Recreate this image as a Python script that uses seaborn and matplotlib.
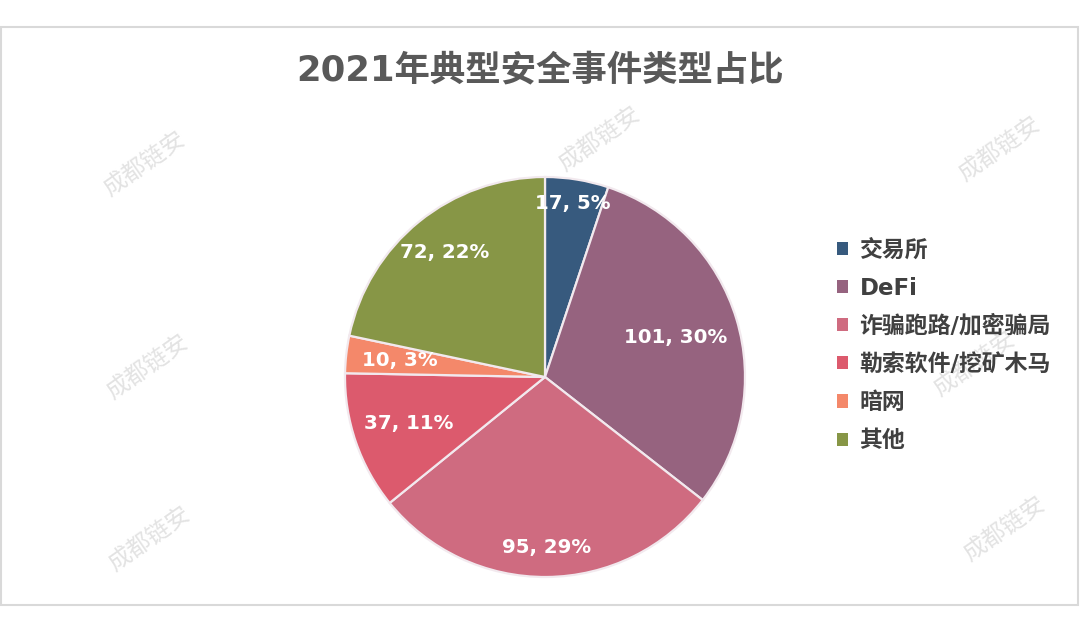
import matplotlib
matplotlib.use("Agg")
import matplotlib.pyplot as plt
import seaborn as sns
import numpy as np
from matplotlib.patches import Rectangle

# data
categories = ['交易所', 'DeFi', '诈骗跑路/加密骗局', '勒索软件/挖矿木马', '暗网', '其他']
counts = [17, 101, 95, 37, 10, 72]
colors = ['#375a7e', '#96637f', '#cf6b80', '#dc5a6d', '#f4886a', '#879646']
label_dist = [0.88, 0.68, 0.855, 0.72, 0.73, 0.80]

sns.set_theme(style='white')
plt.rcParams['font.family'] = ['DejaVu Sans', 'Noto Sans CJK SC']

W, H = 1080, 621
fig = plt.figure(figsize=(W / 100, H / 100), dpi=100)
fig.patch.set_facecolor('white')

# outer frame
fig.patches.append(Rectangle((1 / W, 1 - 605 / H), 1077 / W, 578 / H,
                             transform=fig.transFigure, fill=False,
                             edgecolor='#d9d9d9', linewidth=1.5))

# faint watermarks
wm = [(145, 165), (148, 368), (150, 540), (600, 140), (600, 505),
      (1000, 150), (975, 365), (1005, 530)]
for x, y in wm:
    fig.text(x / W, 1 - y / H, '成都链安', rotation=35, fontsize=17,
             color='#e3e3e3', ha='center', va='center',
             family=['Noto Sans CJK SC'], zorder=0)

cx, cy, r = 545, 377, 200
ax = fig.add_axes([(cx - r) / W, 1 - (cy + r) / H, 2 * r / W, 2 * r / H])
ax.set_facecolor('none')
ax.set_zorder(2)

wedges, _ = ax.pie(counts, colors=colors, startangle=90, counterclock=False,
                   wedgeprops=dict(edgecolor='#f2e9ee', linewidth=1.6))
ax.set_xlim(-1, 1)
ax.set_ylim(-1, 1)
ax.set_aspect('equal')
ax.axis('off')

total = sum(counts)
for w, n, d in zip(wedges, counts, label_dist):
    ang = np.deg2rad((w.theta1 + w.theta2) / 2)
    ax.text(d * np.cos(ang), d * np.sin(ang), f'{n}, {round(n / total * 100)}%',
            ha='center', va='center', color='white', fontsize=14.2,
            fontweight='bold')

fig.text(540 / W, 1 - 70 / H, '2021年典型安全事件类型占比', ha='center',
         va='center', fontsize=25.5, fontweight='bold', color='#595959')

leg = fig.legend(wedges, categories, loc='upper left',
                 bbox_to_anchor=(816 / W, 1 - 218 / H), frameon=False,
                 handlelength=0.5, handleheight=0.5, handletextpad=0.5,
                 labelspacing=0.66, prop=dict(size=16.5, weight='bold'))
for t in leg.get_texts():
    t.set_color('#404040')
for h in leg.legend_handles:
    h.set_edgecolor('none')

fig.savefig('out.png', dpi=100, facecolor='white')
